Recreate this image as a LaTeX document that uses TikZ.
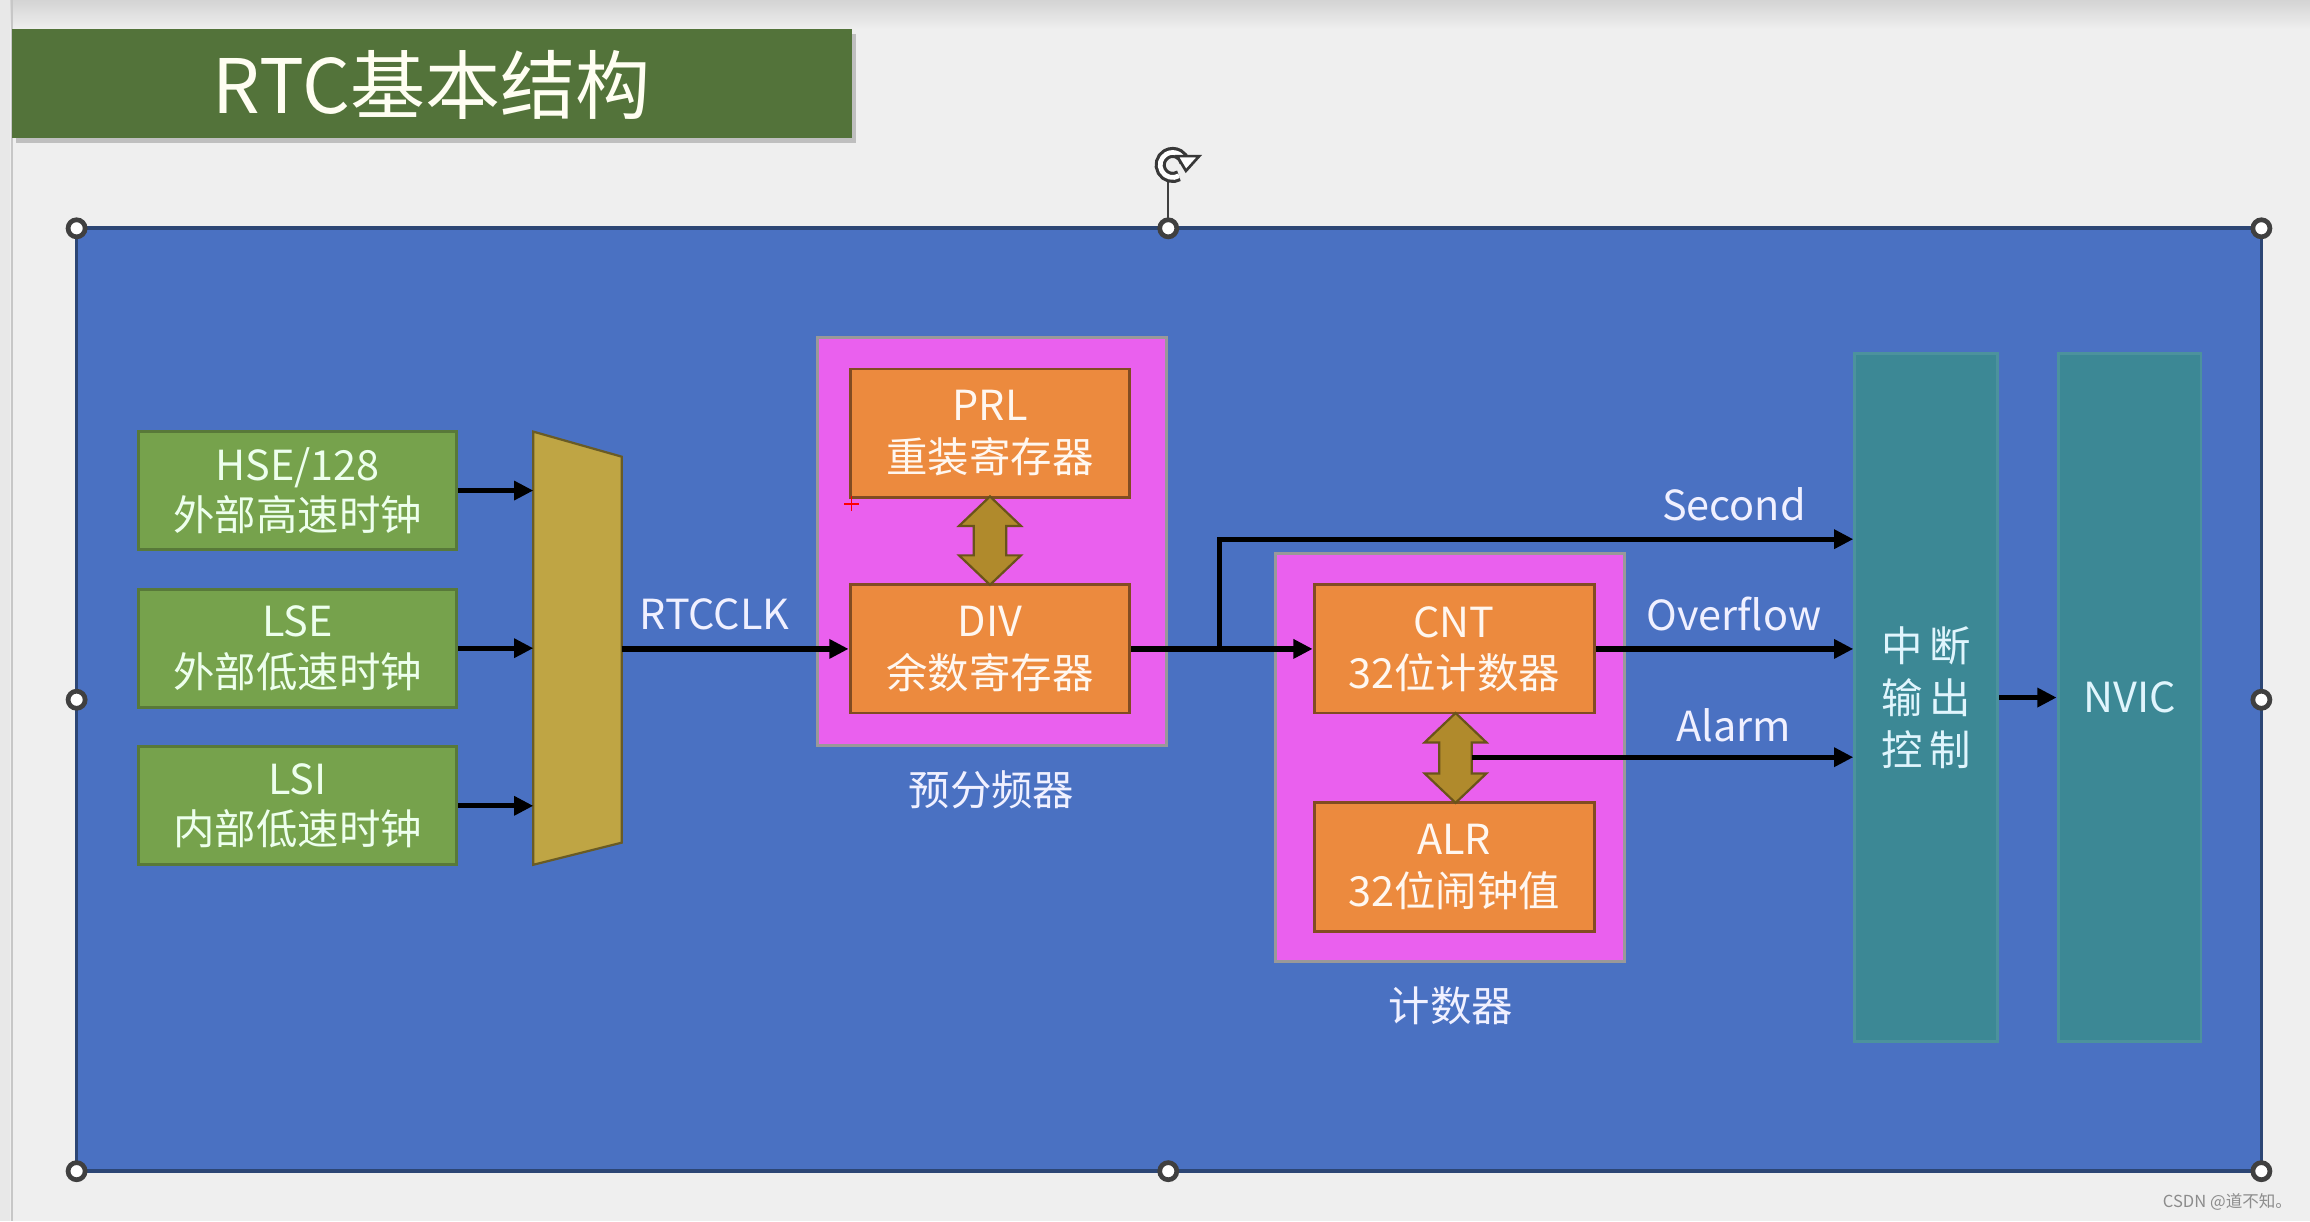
\documentclass[tikz,border=0pt]{standalone}
\usepackage{fontspec}
\setmainfont{Noto Sans CJK SC}
\usetikzlibrary{arrows.meta,calc}
\definecolor{slidebg}{HTML}{EFEFEF}
\definecolor{titlegreen}{HTML}{53733A}
\definecolor{panelblue}{HTML}{4A71C2}
\definecolor{paneledge}{HTML}{2C4675}
\definecolor{clkgreen}{HTML}{76A24C}
\definecolor{muxgold}{HTML}{BFA544}
\definecolor{grpmag}{HTML}{EA60EE}
\definecolor{regorange}{HTML}{EC8A3E}
\definecolor{arrgold}{HTML}{B08A2C}
\definecolor{intteal}{HTML}{3C8895}
\def\vdblarrow(#1:#2:#3){\draw[dblarr] (#1,#2) -- ++(21,20) -- ++(-10,0) -- ({#1+11},{#3-20}) -- ++(10,0) -- (#1,#3) -- ++(-21,-20) -- ++(10,0) -- ({#1-11},{#2+20}) -- ++(-10,0) -- cycle;}
\tikzset{
	clkbox/.style={draw=clkgreen!75!black, line width=0.2mm, fill=clkgreen, text=white!93!green, minimum width=21.6mm, minimum height=8mm, inner sep=0, align=center, font=\fontsize{8}{9.7}\selectfont},
	regbox/.style={draw=regorange!55!black, line width=0.2mm, fill=regorange, text=white!94!orange, minimum width=19mm, minimum height=8.7mm, inner sep=0, align=center, font=\fontsize{8}{9.9}\selectfont},
	grpbox/.style={draw=gray!80, line width=0.2mm, fill=grpmag, minimum width=23.7mm, minimum height=27.7mm, inner sep=0},
	intbox/.style={fill=intteal, draw=intteal!92!white, line width=0.2mm, minimum width=9.7mm, minimum height=46.7mm, inner sep=0, align=center, text=cyan!12!white, font=\fontsize{8}{10}\selectfont},
	lbl/.style={text=white!94!blue, inner sep=0, font=\fontsize{8}{9.7}\selectfont},
	arr/.style={line width=0.36mm, -{Triangle[length=1.3mm,width=1.25mm]}},
	dblarr/.style={fill=arrgold, draw=arrgold!60!black, line width=0.15mm},
	handle/.style={fill=white, draw=black!75, line width=0.32mm}
}
\begin{document}
\begin{tikzpicture}[x=0.1mm,y=-0.1mm]
		%%%%% START %%%%%
		\useasboundingbox (0,0) rectangle (1568,829);
		\fill[slidebg] (0,0) rectangle (1568,829);
		\shade[top color=black!17, bottom color=slidebg] (0,0) rectangle (1568,20);
		\fill[black!9] (0,0) rectangle (7,829);
		\draw[black!22, line width=0.15mm] (8,0) -- (8,829);
		
		% title
		\fill[black!25] (11,23) rectangle (581,97);
		\fill[titlegreen] (8,20) rectangle (578,94);
		\node (title) at (293,58) [text=white!95!yellow, font=\fontsize{14.5}{16}\selectfont] {RTC基本结构};
		
		% panel and handles
		\draw[fill=panelblue, draw=paneledge, line width=0.25mm] (52,155) rectangle (1535,795);
		\coordinate (rot) at (796,112);
		\draw[black!75, line width=0.15mm] (793,122) -- (793,155);
		\draw[line width=0.75mm, black!78] (rot) ++(-60:0.85mm) arc[start angle=-60, end angle=-345, radius=0.85mm];
		\draw[line width=0.32mm, white] (rot) ++(-60:0.85mm) arc[start angle=-60, end angle=-345, radius=0.85mm];
		\filldraw[fill=white, draw=black!78, line width=0.18mm] (799,106) -- (814,106) -- (805,116) -- cycle;
		\foreach \hx/\hy in {52/155,793/155,1535/155,52/475,1535/475,52/795,793/795,1535/795}
			\draw[handle] (\hx,\hy) circle (0.58mm);
		
		% clock sources
		\node[clkbox] (hse) at (202,333) {HSE/128\\外部高速时钟};
		\node[clkbox] (lse) at (202,440) {LSE\\外部低速时钟};
		\node[clkbox] (lsi) at (202,547) {LSI\\内部低速时钟};
		
		% selector
		\coordinate (muxtl) at (362,293);
		\coordinate (muxtr) at (422,310);
		\draw[fill=muxgold, draw=muxgold!55!black, line width=0.15mm] (muxtl) -- (muxtr) -- (422,572) -- (362,587) -- cycle;
		\draw[arr] (hse.east) -- (hse.east -| muxtl);
		\draw[arr] (lse.east) -- (lse.east -| muxtl);
		\draw[arr] (lsi.east) -- (lsi.east -| muxtl);
		
		% prescaler
		\node[grpbox] (pre) at (673.5,367.5) {};
		\node[regbox] (prl) at (672,294) {PRL\\重装寄存器};
		\node[regbox] (div) at (672,440.5) {DIV\\余数寄存器};
		\vdblarrow(672:337:397)
		\node[lbl] (prename) at (673,536) {预分频器};
		\draw[red, line width=0.12mm] (573,342) -- (583,342) (578,337) -- (578,347);
		
		\draw[arr] (muxtr |- div.west) -- (div.west);
		\node[lbl] (clklbl) at (485,417) {RTCCLK};
		
		% counter
		\node[grpbox] (cntgrp) at (984.5,514) {};
		\node[regbox] (cnt) at (987,440.5) {CNT\\32位计数器};
		\node[regbox] (alr) at (987,588.5) {ALR\\32位闹钟值};
		\vdblarrow(988:484:545)
		\node[lbl] (cntname) at (985,683) {计数器};
		
		% interrupt side
		\node[intbox] (intc) at (1307.5,473.5) {中\,断\\输\,出\\控\,制};
		\node[intbox] (nvic) at (1445.5,473.5) {NVIC};
		
		\coordinate (tap) at (828,440.5);
		\coordinate (alm) at (999,514);
		\draw[arr] (div.east) -- (cnt.west);
		\draw[line width=0.36mm] (tap) |- (900,366);
		\draw[arr] (tap |- 0,366) -- (intc.west |- 0,366);
		\draw[arr] (cnt.east) -- (intc.west |- cnt.east);
		\draw[arr] (alm) -- (intc.west |- alm);
		\draw[arr] (intc.east) -- (nvic.west);
		\node[lbl] (seclbl) at (1177,342) {Second};
		\node[lbl] (ovflbl) at (1177,417) {Overflow};
		\node[lbl] (almlbl) at (1177,492) {Alarm};
		
		\node[text=black!45, inner sep=0, font=\fontsize{3.2}{4}\selectfont] (mark) at (1512,816) {CSDN @道不知。};
		
		%%%%% END %%%%%
	\end{tikzpicture}
\end{document}
